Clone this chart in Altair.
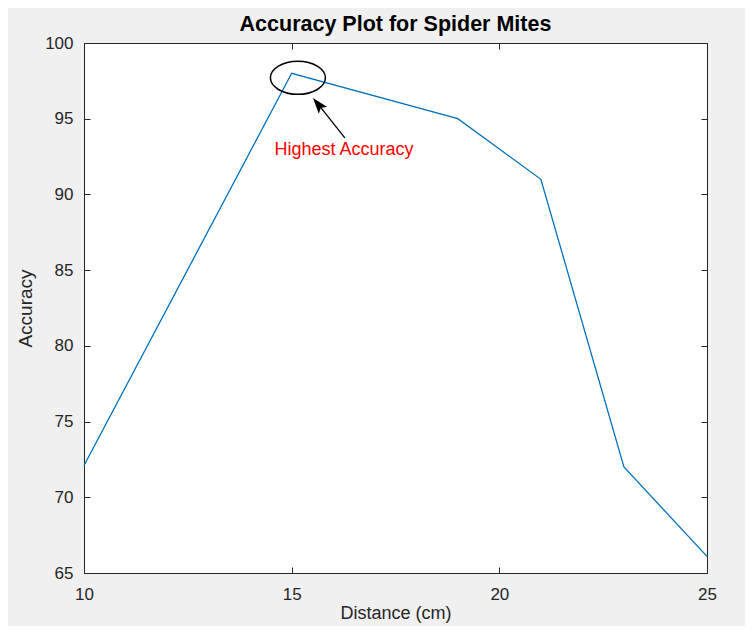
import altair as alt
import pandas as pd

# Data
distance = [10, 15, 19, 21, 23, 25]
accuracy = [72.1, 98, 95, 91, 72, 66.1]

x_ticks = [10, 15, 20, 25]
y_ticks = [65, 70, 75, 80, 85, 90, 95, 100]

# Annotation (data units)
ellipse_x = [15.15]
ellipse_y = [97.7]
arrow_tail_x = [16.28]
arrow_tail_y = [93.73]
arrow_head_x = [15.665]
arrow_head_y = [95.86]
label_x = [16.26]
label_y = [92.94]
label_text = ["Highest Accuracy"]

FONT = "Liberation Sans"
TXT = "#262626"

df = pd.DataFrame({"distance": distance, "accuracy": accuracy})
ell = pd.DataFrame({"x": ellipse_x, "y": ellipse_y})
shaft = pd.DataFrame({"x": arrow_tail_x, "y": arrow_tail_y, "x2": arrow_head_x, "y2": arrow_head_y})
head = pd.DataFrame({"x": arrow_head_x, "y": arrow_head_y})
lab = pd.DataFrame({"x": label_x, "y": label_y, "t": label_text})

xs = alt.Scale(domain=[10, 25], nice=False, zero=False)
ys = alt.Scale(domain=[65, 100], nice=False, zero=False)

common_axis = dict(grid=False, domain=False, offset=-6, tickSize=6, tickColor=TXT,
                   tickWidth=1, labelColor=TXT, titleColor=TXT, labelFont=FONT,
                   titleFont=FONT, labelFontSize=17, titleFontSize=19,
                   titleFontWeight="normal", labelFlush=False, labelOverlap=False)

x_axis_style = dict(common_axis)
x_axis_style["titleFontSize"] = 18

line = alt.Chart(df).mark_line(color="#0072BD", strokeWidth=1.3).encode(
    x=alt.X("distance:Q", scale=xs,
            axis=alt.Axis(values=x_ticks, orient="bottom", title="Distance (cm)",
                          labelPadding=13, titlePadding=2, **x_axis_style)),
    y=alt.Y("accuracy:Q", scale=ys,
            axis=alt.Axis(values=y_ticks, orient="left", title="Accuracy",
                          labelPadding=11, titlePadding=9, **common_axis)),
)

mirror = alt.Chart(df).mark_line(strokeOpacity=0).encode(
    x=alt.X("distance:Q", scale=xs,
            axis=alt.Axis(values=x_ticks, orient="top", labels=False, title=None,
                          **common_axis)),
    y=alt.Y("accuracy:Q", scale=ys,
            axis=alt.Axis(values=y_ticks, orient="right", labels=False, title=None,
                          **common_axis)),
)

ellipse = alt.Chart(ell).mark_point(
    shape="M -1 0 A 1 0.6 0 1 0 1 0 A 1 0.6 0 1 0 -1 0",
    size=3025, filled=False, stroke="black", strokeWidth=1.5, opacity=1,
).encode(
    x=alt.X("x:Q", scale=xs, axis=None),
    y=alt.Y("y:Q", scale=ys, axis=None),
)

arrow_shaft = alt.Chart(shaft).mark_rule(color="black", strokeWidth=1.3).encode(
    x=alt.X("x:Q", scale=xs, axis=None),
    y=alt.Y("y:Q", scale=ys, axis=None),
    x2="x2:Q",
    y2="y2:Q",
)

arrow_head = alt.Chart(head).mark_point(
    shape="M 0 -1 L 0.55 0.6 L 0 0.25 L -0.55 0.6 Z",
    size=400, filled=True, color="black", opacity=1, angle=321,
).encode(
    x=alt.X("x:Q", scale=xs, axis=None),
    y=alt.Y("y:Q", scale=ys, axis=None),
)

text = alt.Chart(lab).mark_text(
    color="#ff0000", fontSize=18, font=FONT, align="center", baseline="middle",
).encode(
    x=alt.X("x:Q", scale=xs, axis=None),
    y=alt.Y("y:Q", scale=ys, axis=None),
    text="t:N",
)

chart = alt.layer(line, mirror, ellipse, arrow_shaft, arrow_head, text).resolve_axis(
    x="independent", y="independent"
).properties(
    width=623,
    height=530,
    title=alt.TitleParams("Accuracy Plot for Spider Mites", fontSize=21.5,
                          fontWeight="bold", font=FONT, color="#000000",
                          anchor="middle", offset=-1),
    background="#f0f0f0",
    autosize=alt.AutoSizeParams(type="none"),
    padding={"left": 76, "top": 35, "right": 38, "bottom": 53},
).configure_view(
    fill="white", stroke=TXT, strokeWidth=1
)

chart.save("out.html", embed_options={"renderer": "svg", "actions": False})
